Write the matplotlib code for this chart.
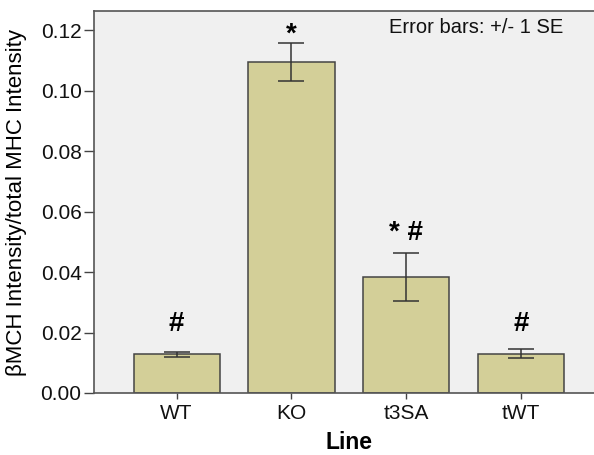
import numpy as np
import matplotlib.pyplot as plt

plt.rcParams['font.family'] = ['Liberation Sans', 'DejaVu Sans']

# data
lines = ['WT', 'KO', 't3SA', 'tWT']
means = [0.0128, 0.1095, 0.0383, 0.0130]
err_low = [0.0118, 0.1031, 0.0303, 0.0115]
err_high = [0.01355, 0.1158, 0.0463, 0.0144]
marks = ['#', '*', '* #', '#']
mark_y = [0.0205, 0.1163, 0.0506, 0.0205]
yticks = [0.0, 0.02, 0.04, 0.06, 0.08, 0.10, 0.12]
ytick_labels = ['0.00', '0.02', '0.04', '0.06', '0.08', '0.10', '0.12']


def plot_bars():
    fig = plt.figure(figsize=(5.94, 4.55), dpi=100)
    # axes runs a little past the right edge, like the cropped original
    ax = fig.add_axes([94 / 594, 62 / 455, 510 / 594, 382 / 455])
    ax.set_facecolor('#f0f0f0')

    x = np.arange(len(lines))
    m = np.array(means)
    yerr = [m - np.array(err_low), np.array(err_high) - m]
    ax.bar(x, m, width=0.75, color='#d3cf98', edgecolor='#444444', linewidth=1.1, zorder=2)
    ax.errorbar(x, m, yerr=yerr, fmt='none', ecolor='#333333', elinewidth=1.1,
                capsize=9.7, capthick=1.1, zorder=3)

    for xi, yi, s in zip(x, mark_y, marks):
        ax.text(xi, yi, s, ha='center', va='baseline', fontsize=20, fontweight='bold')

    ax.text(0.9196, 0.9555, 'Error bars: +/- 1 SE', transform=ax.transAxes,
            ha='right', va='center', fontsize=14.5, color='#111111')

    ax.set_xlim(-0.719, 3.72)
    ax.set_ylim(0, 0.1263)
    ax.set_yticks(yticks)
    ax.set_yticklabels(ytick_labels)
    ax.set_xticks(x)
    ax.set_xticklabels(lines)
    ax.tick_params(axis='y', labelsize=15, direction='out', length=7, width=1.0,
                   color='#444444', labelcolor='#111111', pad=2)
    ax.tick_params(axis='x', labelsize=15, direction='out', length=4, width=1.0,
                   color='#444444', labelcolor='#111111', pad=4)

    for side in ['left', 'bottom', 'top']:
        ax.spines[side].set_color('#555555')
        ax.spines[side].set_linewidth(1.2)
    ax.spines['right'].set_visible(False)

    ax.set_xlabel('Line', fontsize=16.5, fontweight='bold')
    ax.set_ylabel('\u03b2MCH Intensity/total MHC Intensity', fontsize=16)
    ax.xaxis.set_label_coords(0.5, -0.0995)
    ax.yaxis.set_label_coords(-0.131, 0.5)
    return fig


if __name__ == "__main__":
    fig = plot_bars()
    fig.savefig('out.png', dpi=100)
